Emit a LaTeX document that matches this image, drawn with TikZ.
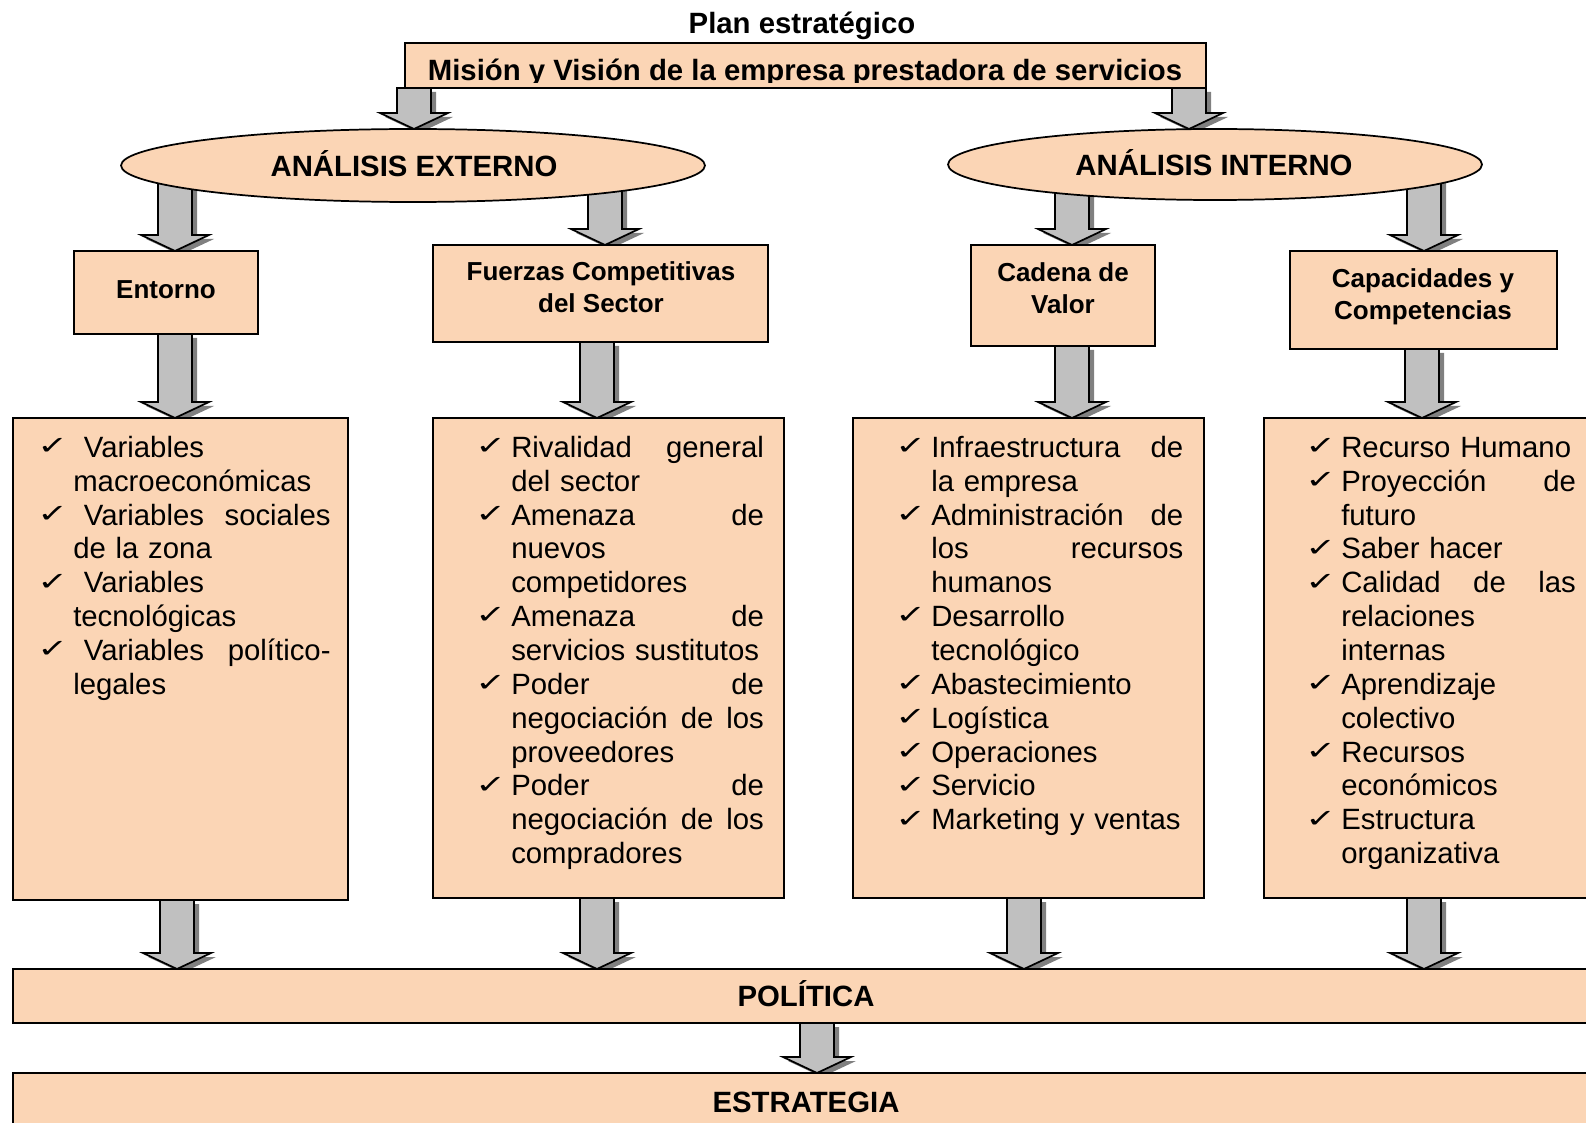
\documentclass[tikz,border=0pt]{standalone}
\usepackage{fontspec}
\usepackage{graphicx}
\setmainfont{Liberation Sans}
\newfontfamily\dejavu{DejaVu Sans}
\usetikzlibrary{shapes.geometric,backgrounds,calc}
\definecolor{peachfill}{HTML}{FBD5B5}
\definecolor{arrowgray}{HTML}{C0C0C0}
\definecolor{shadowgray}{HTML}{808080}
\setlength{\parindent}{0pt}
\newcommand\chk{\smash{\raisebox{2pt}{\scalebox{1.15}[0.8]{\dejavu\fontsize{24}{24}\selectfont ✓}}}}
\newcommand\itm{\makebox[27pt][l]{\chk}}
\newcommand\cnt{\hspace*{27pt}}
% block arrow polygon, uses \n1 (x), \n2 (top y), \n3 (tip y), all in pt
\newcommand\arrpoly[2]{%
 ({(\n1+#1-12.75)*1pt},{(\n2+#2)*1pt}) --
 ({(\n1+#1+12.75)*1pt},{(\n2+#2)*1pt}) --
 ({(\n1+#1+12.75)*1pt},{(\n3+#2+12)*1pt}) --
 ({(\n1+#1+25.5)*1pt},{(\n3+#2+12)*1pt}) --
 ({(\n1+#1)*1pt},{(\n3+#2)*1pt}) --
 ({(\n1+#1-25.5)*1pt},{(\n3+#2+12)*1pt}) --
 ({(\n1+#1-12.75)*1pt},{(\n3+#2+12)*1pt}) -- cycle}
% #1 x (px), #2 source anchor, #3 target node
\newcommand\blockarrow[3]{%
 \path[fill=shadowgray] let \p1=(#2), \p2=(#3.north),
   \n1={#1*0.75}, \n2={\y1}, \n3={\y2} in \arrpoly{3.75}{-3};
 \path[draw=black, fill=arrowgray, line width=1.3pt, line join=miter]
   let \p1=(#2), \p2=(#3.north),
   \n1={#1*0.75}, \n2={\y1}, \n3={\y2} in \arrpoly{0}{0};
}
\begin{document}
\begin{tikzpicture}[x=0.75pt,y=-0.75pt,
  pbox/.style={draw, fill=peachfill, line width=1.3pt, inner sep=0pt, outer sep=0pt, anchor=north west},
  pell/.style={draw, fill=peachfill, ellipse, line width=1.3pt, inner sep=0pt, outer sep=0pt},
  blbl/.style={font=\bfseries\fontsize{19.5}{23.5}\selectfont, align=center, inner sep=0pt, anchor=north},
  ttl/.style={font=\bfseries\fontsize{22}{26}\selectfont, inner sep=0pt, anchor=base},
  lst/.style={font=\fontsize{22}{25.4}\selectfont, align=left, inner sep=0pt, anchor=north west}]
\useasboundingbox (0,0) rectangle (1586,1123);
\begin{scope}
\clip (0,0) rectangle (1586,1123);
\node[ttl] (plan) at (802,34) {Plan estratégico};
\node[pbox, minimum width=600.75pt, minimum height=33.75pt] (mis) at (405,43) {};
\begin{scope}
\clip (mis.north west) rectangle (1206,82.5);
\node[ttl] (mistxt) at (805,81) {Misión y Visión de la empresa prestadora de servicios};
\end{scope}

\node[pell, minimum width=438pt, minimum height=54.75pt] (ext) at (413,165.5) {};
\node[ttl] (extt) at (414,176.5) {ANÁLISIS EXTERNO};
\node[pell, minimum width=400.5pt, minimum height=53.25pt] (int) at (1215,164.5) {};
\node[ttl] (intt) at (1214,175.5) {ANÁLISIS INTERNO};

\node[pbox, minimum width=138pt, minimum height=62.25pt] (ent) at (74,251) {};
\node[blbl, anchor=base] (entt) at (166,298.5) {Entorno};
\node[pbox, minimum width=251.25pt, minimum height=72.75pt] (fue) at (433,245) {};
\node[blbl] (fuet) at (601,258.6) {\strut Fuerzas Competitivas\\del Sector};
\node[pbox, minimum width=138pt, minimum height=75.75pt] (cad) at (971,245) {};
\node[blbl] (cadt) at (1063,259.6) {\strut Cadena de\\Valor};
\node[pbox, minimum width=200.25pt, minimum height=73.5pt] (cap) at (1290,251) {};
\node[blbl] (capt) at (1423,265.6) {\strut Capacidades y\\Competencias};

\node[pbox, minimum width=251.25pt, minimum height=361.5pt] (b1) at (13,418) {};
\node[pbox, minimum width=263.25pt, minimum height=360pt] (b2) at (433,418) {};
\node[pbox, minimum width=263.25pt, minimum height=360pt] (b3) at (853,418) {};
\node[pbox, minimum width=267pt, minimum height=360pt] (b4) at (1264,418) {};

\node[lst, text width=220pt] (l1) at (37,433.3) {\strut\itm\hspace{8pt}Variables\\
\cnt macroeconómicas\\
\itm\hspace{8pt}Variables\hfill sociales\\
\cnt de la zona\\
\itm\hspace{8pt}Variables\\
\cnt tecnológicas\\
\itm\hspace{8pt}Variables\hfill político-\\
\cnt legales};

\node[lst, text width=216.5pt] (l2) at (475,433.3) {\strut\itm Rivalidad\hfill general\\
\cnt del sector\\
\itm Amenaza\hfill de\\
\cnt nuevos\\
\cnt competidores\\
\itm Amenaza\hfill de\\
\cnt servicios sustitutos\\
\itm Poder\hfill de\\
\cnt negociación\hfill de\hfill los\\
\cnt proveedores\\
\itm Poder\hfill de\\
\cnt negociación\hfill de\hfill los\\
\cnt compradores};

\node[lst, text width=216pt] (l3) at (895,433.3) {\strut\itm Infraestructura\hfill de\\
\cnt la empresa\\
\itm Administración\hfill de\\
\cnt los\hfill recursos\\
\cnt humanos\\
\itm Desarrollo\\
\cnt tecnológico\\
\itm Abastecimiento\\
\itm Logística\\
\itm Operaciones\\
\itm Servicio\\
\itm Marketing y ventas};

\node[lst, text width=203pt] (l4) at (1305,433.3) {\strut\itm Recurso Humano\\
\itm Proyección\hfill de\\
\cnt futuro\\
\itm Saber hacer\\
\itm Calidad\hfill de\hfill las\\
\cnt relaciones\\
\cnt internas\\
\itm Aprendizaje\\
\cnt colectivo\\
\itm Recursos\\
\cnt económicos\\
\itm Estructura\\
\cnt organizativa};

\node[pbox, minimum width=1205.25pt, minimum height=40.5pt] (pol) at (13,969) {};
\node[ttl] (polt) at (806,1006.5) {POLÍTICA};
\node[pbox, minimum width=1205.25pt, minimum height=50.25pt] (est) at (13,1073) {};
\node[ttl] (estt) at (806,1112) {ESTRATEGIA};

\begin{pgfonlayer}{background}
\blockarrow{414}{mis.south}{ext}
\blockarrow{1189}{mis.south}{int}
\blockarrow{175}{ext.center}{ent}
\blockarrow{605}{ext.center}{fue}
\blockarrow{1072}{int.center}{cad}
\blockarrow{1424}{int.center}{cap}
\blockarrow{175}{ent.south}{b1}
\blockarrow{597}{fue.south}{b2}
\blockarrow{1072}{cad.south}{b3}
\blockarrow{1422}{cap.south}{b4}
\blockarrow{177}{b1.south}{pol}
\blockarrow{597}{b2.south}{pol}
\blockarrow{1024}{b3.south}{pol}
\blockarrow{1424}{b4.south}{pol}
\blockarrow{817}{pol.south}{est}
\end{pgfonlayer}
\end{scope}
\end{tikzpicture}
\end{document}
